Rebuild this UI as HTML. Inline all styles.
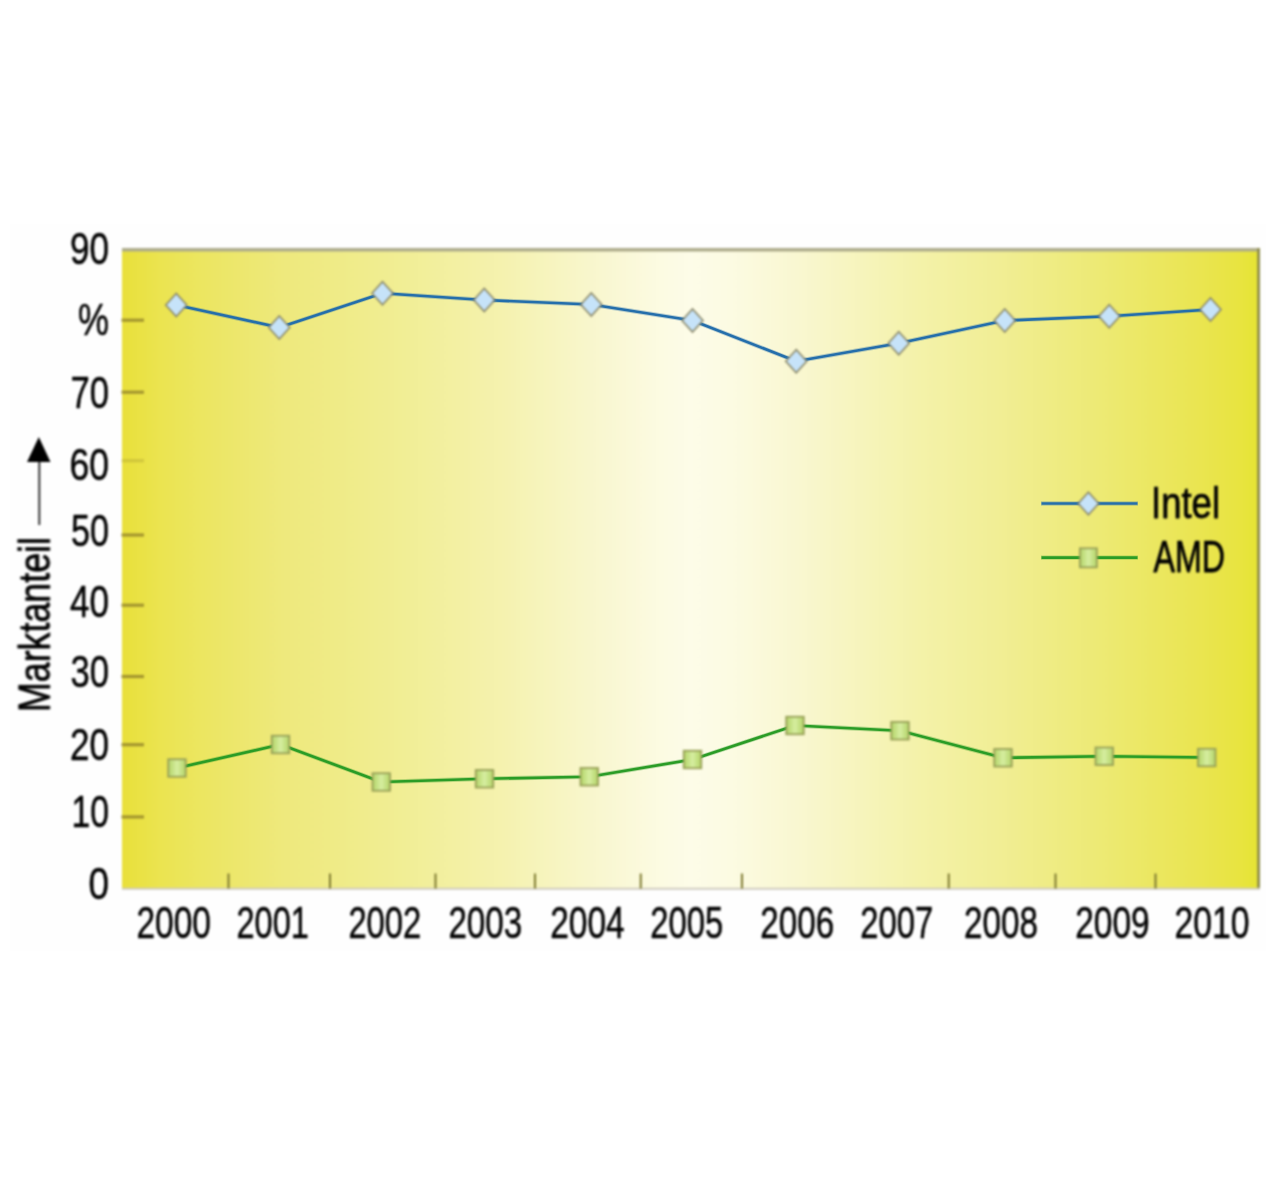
<!DOCTYPE html>
<html lang="de"><head><meta charset="utf-8"><title>Marktanteil Intel / AMD 2000–2010</title>
<style>
html,body{margin:0;padding:0;background:#fff;}
body{width:1280px;height:1190px;overflow:hidden;position:relative;}
svg{position:absolute;left:0;top:0;display:block;}
text{font-family:"Liberation Sans",sans-serif;fill:#000;stroke:#000;stroke-width:0.5px;stroke-linejoin:round;}
text.b{stroke-width:0.75px;}
</style></head><body>
<svg width="1280" height="1190" viewBox="0 0 1280 1190">
<defs>
<linearGradient id="bg" x1="0" y1="0" x2="1" y2="0">
<stop offset="0.0000" stop-color="#e9e03a"/>
<stop offset="0.0334" stop-color="#ebe450"/>
<stop offset="0.0686" stop-color="#ece660"/>
<stop offset="0.1407" stop-color="#eee97c"/>
<stop offset="0.2445" stop-color="#f1ee94"/>
<stop offset="0.3325" stop-color="#f5f2ae"/>
<stop offset="0.4204" stop-color="#f9f7d0"/>
<stop offset="0.4732" stop-color="#fcfbe2"/>
<stop offset="0.4996" stop-color="#fdfce8"/>
<stop offset="0.5347" stop-color="#fcfbe2"/>
<stop offset="0.5963" stop-color="#f9f7d0"/>
<stop offset="0.7036" stop-color="#f4f2a8"/>
<stop offset="0.7722" stop-color="#f1ee94"/>
<stop offset="0.8602" stop-color="#edea74"/>
<stop offset="0.9481" stop-color="#eae550"/>
<stop offset="0.9824" stop-color="#e8e440"/>
<stop offset="1.0000" stop-color="#e5e432"/>
</linearGradient>
<linearGradient id="sq" x1="0" y1="0" x2="1" y2="0">
<stop offset="0" stop-color="#b4d468"/><stop offset="0.5" stop-color="#d6eea0"/><stop offset="1" stop-color="#b4d468"/>
</linearGradient>
<filter id="soft" x="-5%" y="-5%" width="110%" height="110%" color-interpolation-filters="sRGB"><feGaussianBlur stdDeviation="0.9"/></filter>
<filter id="softl" x="-5%" y="-5%" width="110%" height="110%" color-interpolation-filters="sRGB"><feGaussianBlur stdDeviation="0.9"/></filter>
<filter id="softt" x="-5%" y="-5%" width="110%" height="110%" color-interpolation-filters="sRGB"><feGaussianBlur stdDeviation="0.9"/></filter>
</defs>
<rect x="10" y="224" width="1256" height="727" fill="#fefefe"/>
<g filter="url(#soft)">
<rect x="122" y="248" width="1138" height="641" fill="url(#bg)"/>
<rect x="122" y="248" width="1138" height="3.5" fill="#aeac8c"/>
<rect x="1257.2" y="248" width="2.8" height="641" fill="#8e8c4c"/>
<rect x="122" y="887.8" width="1138" height="2" fill="#cfcbc0"/>
<rect x="121.5" y="318.6" width="22.5" height="3.2" fill="#a4962e" opacity="1"/>
<rect x="121.5" y="390.6" width="22.5" height="3.2" fill="#a4962e" opacity="1"/>
<rect x="121.5" y="459.1" width="22.5" height="3.2" fill="#a4962e" opacity="0.35"/>
<rect x="121.5" y="533.4" width="22.5" height="3.2" fill="#a4962e" opacity="1"/>
<rect x="121.5" y="603.6" width="22.5" height="3.2" fill="#a4962e" opacity="1"/>
<rect x="121.5" y="674.9" width="22.5" height="3.2" fill="#a4962e" opacity="1"/>
<rect x="121.5" y="743.1" width="22.5" height="3.2" fill="#a4962e" opacity="1"/>
<rect x="121.5" y="815.35" width="22.5" height="3.2" fill="#a4962e" opacity="1"/>
<rect x="227.5" y="873.5" width="2" height="15" fill="#7e7a30"/>
<rect x="329" y="873.5" width="2" height="15" fill="#7e7a30"/>
<rect x="434.5" y="873.5" width="2" height="15" fill="#7e7a30"/>
<rect x="534" y="873.5" width="2" height="15" fill="#7e7a30"/>
<rect x="639.75" y="873.5" width="2" height="15" fill="#7e7a30"/>
<rect x="741" y="873.5" width="2" height="15" fill="#7e7a30"/>
<rect x="947.75" y="873.5" width="2" height="15" fill="#7e7a30"/>
<rect x="1054.5" y="873.5" width="2" height="15" fill="#7e7a30"/>
<rect x="1154.5" y="873.5" width="2" height="15" fill="#7e7a30"/>
</g><g fill="none" stroke-linejoin="round">
<polyline points="176.25,305 279.25,327.5 382.5,293.25 484.25,300 591.25,304.5 692.5,320.5 796.25,361.25 898.75,343.25 1004.75,320.5 1109.25,316.25 1210.5,309.5" stroke="#246eab" stroke-width="4.4" stroke-opacity="0.3"/>
<polyline points="176.25,305 279.25,327.5 382.5,293.25 484.25,300 591.25,304.5 692.5,320.5 796.25,361.25 898.75,343.25 1004.75,320.5 1109.25,316.25 1210.5,309.5" stroke="#246eab" stroke-width="2.7"/>
<polyline points="177,768 280.5,744.5 381.25,782 484.5,778.75 589.25,776.75 692.5,759.5 795,725.5 900,730.75 1003,757.75 1104.25,756.25 1206.75,757.5" stroke="#2a9c26" stroke-width="4.4" stroke-opacity="0.3"/>
<polyline points="177,768 280.5,744.5 381.25,782 484.5,778.75 589.25,776.75 692.5,759.5 795,725.5 900,730.75 1003,757.75 1104.25,756.25 1206.75,757.5" stroke="#2a9c26" stroke-width="2.7"/>
<line x1="1041" y1="503.5" x2="1138" y2="503.5" stroke="#246eab" stroke-width="4.4" stroke-opacity="0.3"/>
<line x1="1041.5" y1="503.5" x2="1137.5" y2="503.5" stroke="#246eab" stroke-width="2.7"/>
<line x1="1041" y1="557.6" x2="1138" y2="557.6" stroke="#2a9c26" stroke-width="4.4" stroke-opacity="0.3"/>
<line x1="1041.5" y1="557.6" x2="1137.5" y2="557.6" stroke="#2a9c26" stroke-width="2.7"/>
</g><g filter="url(#soft)">
<path d="M165.75,305 L176.25,293.5 L186.75,305 L176.25,316.5 Z" fill="#c6e3f9" stroke="#8c8a6c" stroke-width="1.6"/>
<path d="M268.75,327.5 L279.25,316.0 L289.75,327.5 L279.25,339.0 Z" fill="#c6e3f9" stroke="#8c8a6c" stroke-width="1.6"/>
<path d="M372.0,293.25 L382.5,281.75 L393.0,293.25 L382.5,304.75 Z" fill="#c6e3f9" stroke="#8c8a6c" stroke-width="1.6"/>
<path d="M473.75,300 L484.25,288.5 L494.75,300 L484.25,311.5 Z" fill="#c6e3f9" stroke="#8c8a6c" stroke-width="1.6"/>
<path d="M580.75,304.5 L591.25,293.0 L601.75,304.5 L591.25,316.0 Z" fill="#c6e3f9" stroke="#8c8a6c" stroke-width="1.6"/>
<path d="M682.0,320.5 L692.5,309.0 L703.0,320.5 L692.5,332.0 Z" fill="#c6e3f9" stroke="#8c8a6c" stroke-width="1.6"/>
<path d="M785.75,361.25 L796.25,349.75 L806.75,361.25 L796.25,372.75 Z" fill="#c6e3f9" stroke="#8c8a6c" stroke-width="1.6"/>
<path d="M888.25,343.25 L898.75,331.75 L909.25,343.25 L898.75,354.75 Z" fill="#c6e3f9" stroke="#8c8a6c" stroke-width="1.6"/>
<path d="M994.25,320.5 L1004.75,309.0 L1015.25,320.5 L1004.75,332.0 Z" fill="#c6e3f9" stroke="#8c8a6c" stroke-width="1.6"/>
<path d="M1098.75,316.25 L1109.25,304.75 L1119.75,316.25 L1109.25,327.75 Z" fill="#c6e3f9" stroke="#8c8a6c" stroke-width="1.6"/>
<path d="M1200.0,309.5 L1210.5,298.0 L1221.0,309.5 L1210.5,321.0 Z" fill="#c6e3f9" stroke="#8c8a6c" stroke-width="1.6"/>
<rect x="168.25" y="759.25" width="17.5" height="17.5" fill="url(#sq)" stroke="#98a058" stroke-width="1.8"/>
<rect x="271.75" y="735.75" width="17.5" height="17.5" fill="url(#sq)" stroke="#98a058" stroke-width="1.8"/>
<rect x="372.5" y="773.25" width="17.5" height="17.5" fill="url(#sq)" stroke="#98a058" stroke-width="1.8"/>
<rect x="475.75" y="770.0" width="17.5" height="17.5" fill="url(#sq)" stroke="#98a058" stroke-width="1.8"/>
<rect x="580.5" y="768.0" width="17.5" height="17.5" fill="url(#sq)" stroke="#98a058" stroke-width="1.8"/>
<rect x="683.75" y="750.75" width="17.5" height="17.5" fill="url(#sq)" stroke="#98a058" stroke-width="1.8"/>
<rect x="786.25" y="716.75" width="17.5" height="17.5" fill="url(#sq)" stroke="#98a058" stroke-width="1.8"/>
<rect x="891.25" y="722.0" width="17.5" height="17.5" fill="url(#sq)" stroke="#98a058" stroke-width="1.8"/>
<rect x="994.25" y="749.0" width="17.5" height="17.5" fill="url(#sq)" stroke="#98a058" stroke-width="1.8"/>
<rect x="1095.5" y="747.5" width="17.5" height="17.5" fill="url(#sq)" stroke="#98a058" stroke-width="1.8"/>
<rect x="1198.0" y="748.75" width="17.5" height="17.5" fill="url(#sq)" stroke="#98a058" stroke-width="1.8"/>
<path d="M1078.1000000000001,503.5 L1088.4,492.3 L1098.7,503.5 L1088.4,514.7 Z" fill="#c6e3f9" stroke="#8c8a6c" stroke-width="1.6"/>
<rect x="1079.9" y="548.3" width="17" height="19" fill="url(#sq)" stroke="#98a058" stroke-width="1.8"/>
</g><g filter="url(#softt)">
<text x="1151.00" y="518.00" font-size="44.8" textLength="69.00" lengthAdjust="spacingAndGlyphs" class="b">Intel</text>
<text x="1153.50" y="571.50" font-size="44.8" textLength="71.50" lengthAdjust="spacingAndGlyphs" class="b">AMD</text>
<text x="70.00" y="263.50" font-size="44.5" textLength="39.00" lengthAdjust="spacingAndGlyphs">90</text>
<text x="78.00" y="335.00" font-size="44.5" textLength="31.00" lengthAdjust="spacingAndGlyphs">%</text>
<text x="70.50" y="407.50" font-size="44.5" textLength="38.50" lengthAdjust="spacingAndGlyphs">70</text>
<text x="69.50" y="480.00" font-size="44.5" textLength="39.50" lengthAdjust="spacingAndGlyphs">60</text>
<text x="71.00" y="545.50" font-size="44.5" textLength="38.00" lengthAdjust="spacingAndGlyphs">50</text>
<text x="70.00" y="616.50" font-size="44.5" textLength="39.00" lengthAdjust="spacingAndGlyphs">40</text>
<text x="70.50" y="687.00" font-size="44.5" textLength="38.50" lengthAdjust="spacingAndGlyphs">30</text>
<text x="70.00" y="760.00" font-size="44.5" textLength="39.00" lengthAdjust="spacingAndGlyphs">20</text>
<text x="71.50" y="827.00" font-size="44.5" textLength="37.50" lengthAdjust="spacingAndGlyphs">10</text>
<text x="88.50" y="899.00" font-size="44.5" textLength="20.50" lengthAdjust="spacingAndGlyphs">0</text>
<text x="136.50" y="937.80" font-size="44.5" textLength="74.50" lengthAdjust="spacingAndGlyphs">2000</text>
<text x="236.50" y="937.80" font-size="44.5" textLength="72.30" lengthAdjust="spacingAndGlyphs">2001</text>
<text x="348.40" y="937.80" font-size="44.5" textLength="72.90" lengthAdjust="spacingAndGlyphs">2002</text>
<text x="448.40" y="937.80" font-size="44.5" textLength="73.85" lengthAdjust="spacingAndGlyphs">2003</text>
<text x="550.25" y="937.80" font-size="44.5" textLength="74.50" lengthAdjust="spacingAndGlyphs">2004</text>
<text x="650.25" y="937.80" font-size="44.5" textLength="72.95" lengthAdjust="spacingAndGlyphs">2005</text>
<text x="760.25" y="937.80" font-size="44.5" textLength="73.85" lengthAdjust="spacingAndGlyphs">2006</text>
<text x="860.25" y="937.80" font-size="44.5" textLength="72.95" lengthAdjust="spacingAndGlyphs">2007</text>
<text x="964.00" y="937.80" font-size="44.5" textLength="73.90" lengthAdjust="spacingAndGlyphs">2008</text>
<text x="1075.25" y="937.80" font-size="44.5" textLength="74.50" lengthAdjust="spacingAndGlyphs">2009</text>
<text x="1174.50" y="937.80" font-size="44.5" textLength="75.00" lengthAdjust="spacingAndGlyphs">2010</text>
<g transform="translate(49.6,711) rotate(-90)"><text x="-1.00" y="0.00" font-size="44.5" textLength="175.00" lengthAdjust="spacingAndGlyphs" class="b">Marktanteil</text></g>
</g><g filter="url(#soft)">
<rect x="38.3" y="458" width="2" height="67" fill="#333"/>
<path d="M38.8,437 L50.5,462 L27,462 Z" fill="#000"/>
</g></svg></body></html>
